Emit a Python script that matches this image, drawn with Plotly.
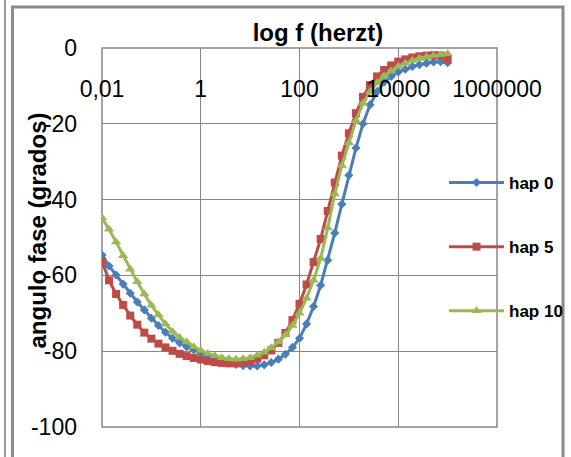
import plotly.graph_objects as go

# ---------------- data ----------------
freq = [0.01, 0.0139, 0.0193, 0.0268, 0.0373, 0.0518, 0.072,
        0.1, 0.139, 0.193, 0.268, 0.373, 0.518, 0.72,
        1, 1.39, 1.93, 2.68, 3.73, 5.18, 7.2,
        10, 13.9, 19.3, 26.8, 37.3, 51.8, 72,
        100, 139, 193, 268, 373, 518, 720,
        1000, 1390, 1930, 2680, 3730, 5180, 7200,
        10000, 13900, 19300, 26800, 37300, 51800, 72000,
        100000]

hap0 = [-54.6, -57.5, -59.9, -62.3, -64.7, -67.0, -69.1,
        -71.3, -73.2, -75.0, -76.6, -77.8, -78.8, -79.7,
        -80.5, -81.3, -82.0, -82.6, -83.1, -83.5, -83.8,
        -83.9, -83.9, -83.6, -83.0, -82.1, -80.8, -79.0,
        -76.6, -72.8, -68.2, -62.6, -56.0, -48.8, -41.2,
        -33.6, -26.4, -20.0, -15.0, -11.5, -9.0, -7.5,
        -6.3, -5.6, -4.9, -4.4, -4.0, -3.7, -3.6,
        -3.9]

hap5 = [-56.3, -61.3, -64.9, -67.8, -70.6, -73.0, -75.1,
        -76.7, -78.0, -79.0, -79.9, -80.7, -81.3, -81.8,
        -82.2, -82.6, -82.9, -83.1, -83.2, -83.2, -83.0,
        -82.6, -82.0, -81.1, -79.8, -77.8, -75.2, -71.8,
        -67.5, -62.4, -56.5, -50.4, -43.0, -35.5, -28.4,
        -22.5, -17.2, -12.9, -9.8, -7.5, -5.8, -4.6,
        -3.6, -3.0, -2.5, -2.2, -2.0, -1.9, -2.0,
        -3.0]

hap10 = [-44.8, -47.8, -51.2, -54.8, -58.4, -61.7, -64.9,
         -67.9, -70.4, -72.8, -74.8, -76.4, -77.6, -78.8,
         -79.8, -80.6, -81.2, -81.7, -82.0, -82.1, -82.0,
         -81.7, -81.1, -80.3, -79.1, -77.6, -75.7, -73.2,
         -70.0, -66.0, -61.3, -55.5, -47.5, -38.5, -31.0,
         -25.0, -19.2, -14.6, -11.5, -9.2, -7.4, -6.1,
         -4.8, -4.0, -3.3, -2.7, -2.3, -2.0, -1.8,
         -1.5]

series_names = ["hap 0", "hap 5", "hap 10"]
x_tickvals = [0.01, 1, 100, 10000, 1000000]
x_ticktext = ["0,01", "1", "100", "10000", "1000000"]
y_tickvals = [0, -20, -40, -60, -80, -100]
y_ticktext = ["0", "-20", "-40", "-60", "-80", "-100"]

# ---------------- layout geometry ----------------
W, H = 571, 457
ML, MR, MT, MB = 102, 74, 48, 30
PW = W - ML - MR
PH = H - MT - MB


def pxx(px):
    return (px - ML) / PW


def pxy(py):
    return 1 - (py - MT) / PH


FONT = "Liberation Sans, Arial, sans-serif"
GRID = "#878787"

styles = [
    dict(color="#4A7EBB", symbol="diamond", size=7),
    dict(color="#BE4B48", symbol="square", size=8),
    dict(color="#98B954", symbol="triangle-up", size=9),
]

fig = go.Figure()
for name, vals, st, grp in zip(series_names, [hap0, hap5, hap10], styles, ["g0", "g1", "g2"]):
    fig.add_trace(go.Scatter(
        x=freq, y=vals, mode="lines+markers", name=name, legendgroup=grp,
        line=dict(color=st["color"], width=3),
        marker=dict(symbol=st["symbol"], size=st["size"], color=st["color"]),
    ))

fig.update_layout(
    width=W, height=H,
    margin=dict(l=ML, r=MR, t=MT, b=MB, autoexpand=False),
    paper_bgcolor="white", plot_bgcolor="white",
    font=dict(family=FONT, color="black"),
    title=dict(text="log f (herzt)", x=318 / W, xanchor="center",
               y=1 - 33 / H, yanchor="middle",
               font=dict(family=FONT, size=24, weight="bold", color="black")),
    xaxis=dict(type="log", range=[-2, 6], tickvals=x_tickvals, ticktext=x_ticktext,
               showgrid=True, gridcolor=GRID, gridwidth=1, zeroline=False,
               showline=False, ticks="", anchor="free", position=0.933, side="bottom",
               tickfont=dict(family=FONT, size=23, color="black")),
    yaxis=dict(range=[-100, 0], tickvals=y_tickvals, ticktext=y_ticktext,
               showgrid=True, gridcolor=GRID, gridwidth=1, zeroline=False,
               showline=False, ticks="", ticklabelstandoff=24,
               tickfont=dict(family=FONT, size=23, color="black")),
    legend=dict(x=pxx(444), y=pxy(165), xanchor="left", yanchor="top",
                bgcolor="rgba(0,0,0,0)", tracegroupgap=39, itemwidth=55,
                font=dict(family=FONT, size=17, weight="bold", color="black")),
    showlegend=True,
)

fig.add_annotation(text="angulo fase (grados)", textangle=-90,
                   xref="paper", yref="paper", x=pxx(37), y=pxy(230.5),
                   xanchor="center", yanchor="middle", showarrow=False,
                   font=dict(family=FONT, size=24, weight="bold", color="black"))

# plot area border
fig.add_shape(type="rect", xref="paper", yref="paper", x0=0, x1=1, y0=0, y1=1,
              line=dict(color=GRID, width=1.5), layer="below")
# chart area border
fig.add_shape(type="rect", xref="paper", yref="paper",
              x0=pxx(12.5), x1=pxx(563), y0=pxy(475), y1=pxy(7),
              line=dict(color="#8a8a8a", width=3))
# outer left line
fig.add_shape(type="line", xref="paper", yref="paper",
              x0=pxx(5), x1=pxx(5), y0=pxy(-5), y1=pxy(470),
              line=dict(color="#9a9a9a", width=2))

fig.write_html("out.html")
